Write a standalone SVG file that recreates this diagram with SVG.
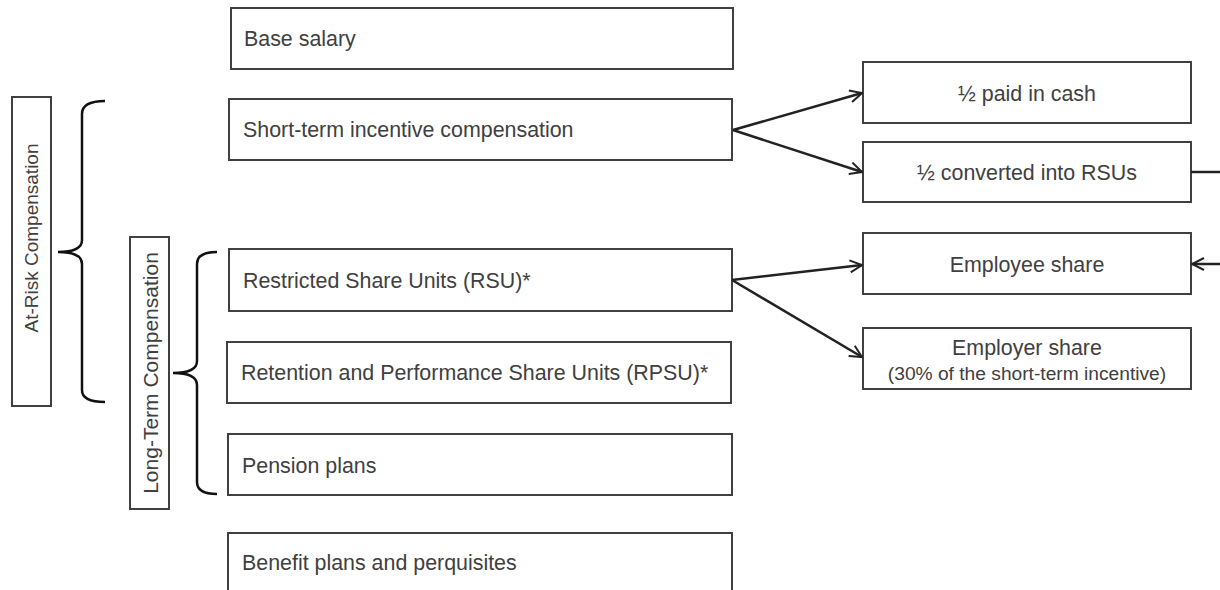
<svg xmlns="http://www.w3.org/2000/svg" width="1220" height="590" viewBox="0 0 1220 590">
<style>
.box{fill:#fff;stroke:#404040;stroke-width:2}
.t{font-family:"Liberation Sans",Arial,sans-serif;font-size:21.4px;fill:#404040}
.c{text-anchor:middle}
.s{font-size:19.2px}
.conn{fill:none;stroke:#222;stroke-width:2.5}
.brace{fill:none;stroke:#111;stroke-width:2.5}
</style>
<defs>
<marker id="arr" viewBox="0 0 14 14" refX="13" refY="7" markerWidth="14" markerHeight="14" markerUnits="userSpaceOnUse" orient="auto">
<path d="M1,1 L13,7 L1,13" fill="none" stroke="#222" stroke-width="2"/>
</marker>
</defs>
<rect width="1220" height="590" fill="#fff"/>

<g id="at-risk">
<rect class="box" x="12" y="97" width="39" height="309"/>
<text class="t" style="font-size:19px" text-anchor="middle" transform="translate(38,238) rotate(-90)">At-Risk Compensation</text>
<path class="brace" d="M105,101 Q82,101 82,114 L82,240 Q82,252 58,252 Q82,252 82,264 L82,390 Q82,402 105,402"/>
</g>

<g id="long-term">
<rect class="box" x="130" y="237" width="39" height="272"/>
<text class="t" style="font-size:21px" text-anchor="middle" transform="translate(158,373) rotate(-90)">Long-Term Compensation</text>
<path class="brace" d="M217,252 Q197,252 197,264 L197,361 Q197,373 173,373 Q197,373 197,385 L197,482 Q197,494 217,494"/>
</g>

<g id="base-salary">
<rect class="box" x="231" y="8" width="502" height="61"/>
<text class="t" x="244" y="46">Base salary</text>
</g>

<g id="short-term">
<rect class="box" x="229" y="99" width="503" height="61"/>
<text class="t" x="243" y="137">Short-term incentive compensation</text>
</g>

<g id="rsu">
<rect class="box" x="229" y="249" width="503" height="62"/>
<text class="t" x="243" y="288">Restricted Share Units (RSU)*</text>
</g>

<g id="rpsu">
<rect class="box" x="227" y="342" width="504" height="61"/>
<text class="t" x="241" y="380">Retention and Performance Share Units (RPSU)*</text>
</g>

<g id="pension">
<rect class="box" x="228" y="434" width="504" height="61"/>
<text class="t" x="242" y="473">Pension plans</text>
</g>

<g id="benefit">
<rect class="box" x="228" y="533" width="504" height="62"/>
<text class="t" x="242" y="570">Benefit plans and perquisites</text>
</g>

<g id="cash">
<rect class="box" x="863" y="62" width="328" height="61"/>
<text class="t c" x="1027" y="101">½ paid in cash</text>
</g>

<g id="converted">
<rect class="box" x="863" y="142" width="328" height="60"/>
<text class="t c" x="1027" y="180">½ converted into RSUs</text>
</g>

<g id="employee">
<rect class="box" x="863" y="233" width="328" height="61"/>
<text class="t c" x="1027" y="272">Employee share</text>
</g>

<g id="employer">
<rect class="box" x="863" y="328" width="328" height="61"/>
<text class="t c" x="1027" y="355">Employer share</text>
<text class="t c s" x="1027" y="380">(30% of the short-term incentive)</text>
</g>

<g id="connectors">
<line class="conn" x1="733" y1="130" x2="862" y2="93" marker-end="url(#arr)"/>
<line class="conn" x1="733" y1="130" x2="862" y2="172" marker-end="url(#arr)"/>
<line class="conn" x1="732" y1="280" x2="862" y2="265" marker-end="url(#arr)"/>
<line class="conn" x1="732" y1="280" x2="862" y2="357" marker-end="url(#arr)"/>
<line class="conn" x1="1191" y1="172" x2="1220" y2="172"/>
<line class="conn" x1="1220" y1="264" x2="1192" y2="264" marker-end="url(#arr)"/>
</g>
</svg>
